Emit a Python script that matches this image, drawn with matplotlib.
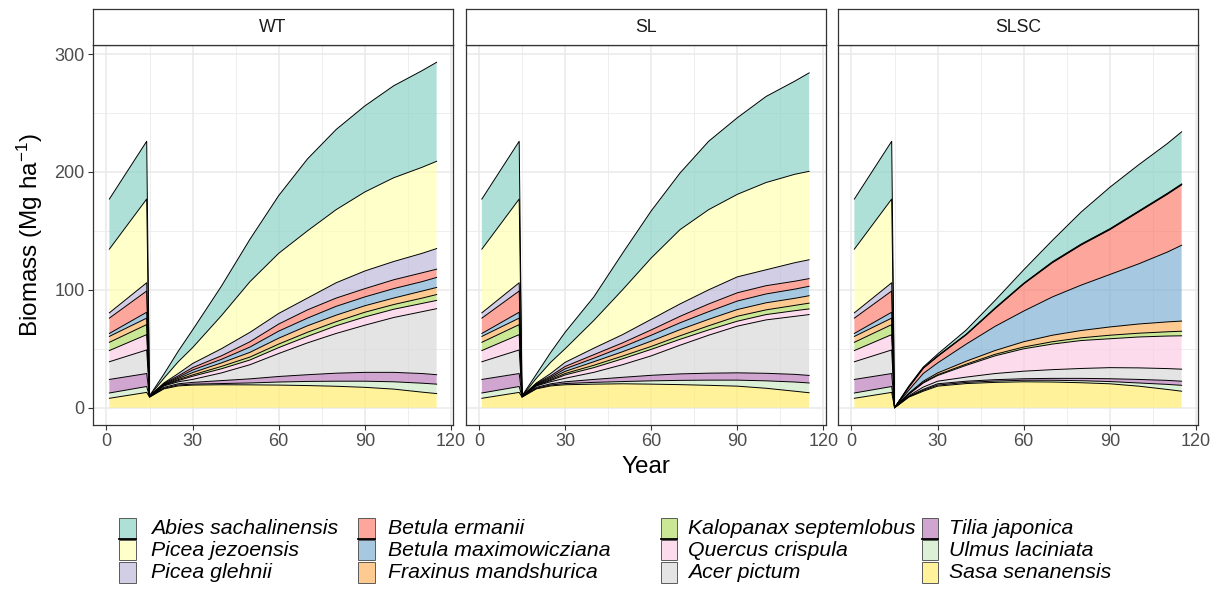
import numpy as np
import matplotlib
matplotlib.use("Agg")
import matplotlib.pyplot as plt
from matplotlib.patches import Rectangle
from matplotlib.lines import Line2D

plt.rcParams['font.family'] = ['Liberation Sans', 'DejaVu Sans']
plt.rcParams['mathtext.fontset'] = 'custom'
plt.rcParams['mathtext.rm'] = 'Liberation Sans'
plt.rcParams['mathtext.it'] = 'Liberation Sans:italic'

# ---------------- data ----------------
SPECIES = ['Abies sachalinensis', 'Picea jezoensis', 'Picea glehnii',
           'Betula ermanii', 'Betula maximowicziana', 'Fraxinus mandshurica',
           'Kalopanax septemlobus', 'Quercus crispula', 'Acer pictum',
           'Tilia japonica', 'Ulmus laciniata', 'Sasa senanensis']
COLORS = ['#8DD3C7', '#FFFFB3', '#BEBADA', '#FB8072', '#80B1D3', '#FDB462',
          '#B3DE69', '#FCCDE5', '#D9D9D9', '#BC80BD', '#CCEBC5', '#FFED6F']
PANELS = ['WT', 'SL', 'SLSC']

PRE_YEARS = [1, 14]
POST_YEARS = [15, 20, 25, 30, 40, 50, 60, 70, 80, 90, 100, 110, 115]

# biomass before harvest (same stand in all treatments), species in legend order
PRE = [
    [42.5, 49], [54, 71], [4.5, 7], [13, 18], [2.5, 5], [5, 5.5],
    [7, 8.5], [9.5, 13], [15, 20], [11.5, 11], [4.5, 5], [8, 13],
]

WT = [
    [0.1, 3.5, 9, 15, 25, 36, 49, 61, 68, 73, 78, 82, 84],
    [0.1, 4, 10, 13.5, 28, 43, 51, 57, 62, 67, 71, 73, 74],
    [0.1, 0.4, 2.0, 3.5, 6, 8, 9, 10, 13, 15, 15.5, 16.5, 17.5],
    [0.1, 0.5, 1.2, 2.0, 3.0, 4.5, 6, 7, 7, 7, 7.5, 7.5, 7],
    [0.1, 0.5, 1.0, 2.2, 3.0, 4.5, 6, 6.5, 7.5, 7.5, 8, 8, 8.5],
    [0.1, 0.4, 1.0, 2.0, 3.0, 4, 5, 5.5, 5.5, 5.5, 5.5, 6, 6],
    [0.1, 0.3, 0.8, 1.1, 2.0, 2.5, 3, 3.5, 3.5, 4, 4, 4.5, 5],
    [0.1, 0.4, 1.0, 2.7, 3.5, 4, 5, 5.5, 6.5, 7, 7, 7, 7],
    [0.1, 1.2, 1.7, 2.5, 6.5, 12, 19.5, 27, 33.7, 40, 46.5, 52.5, 56],
    [0.1, 0.8, 1.0, 1.5, 2.5, 3.5, 4.7, 5.7, 6.8, 7.5, 8, 8.2, 8],
    [0.1, 0.5, 0.8, 0.8, 1.0, 1.6, 2.6, 3.5, 4.3, 5.2, 6.2, 7.6, 8],
    [9, 16, 18.5, 19.2, 19.5, 19.4, 19.2, 18.8, 18.2, 17.3, 15.8, 13.2, 12],
]

SL = [
    [0.1, 3.5, 8.4, 14, 20, 31, 40, 48, 58, 65, 73, 79, 83.5],
    [0.1, 4, 9.5, 11.5, 23.5, 38, 52, 63, 68, 70, 74, 75, 75],
    [0.1, 0.4, 2.0, 3.5, 5.5, 7, 9, 10.5, 12, 13.5, 13.5, 15.7, 16],
    [0.1, 0.5, 1.2, 2, 3, 3.5, 4.5, 5.5, 6.5, 7, 7, 6.7, 6.5],
    [0.1, 0.5, 1.0, 2.2, 3, 4, 5, 5.8, 6.5, 7.2, 7.5, 7.8, 8],
    [0.1, 0.4, 1.0, 1.8, 3, 3.7, 4.5, 5.2, 5.5, 5.7, 6, 6, 6.3],
    [0.1, 0.3, 0.8, 1.2, 2, 2.3, 2.5, 3, 3.5, 4.2, 4, 4.5, 4.9],
    [0.1, 0.4, 1.0, 2.8, 4, 5, 5.5, 5, 4.5, 4.2, 4.5, 4.8, 4.8],
    [0.1, 1.2, 1.8, 3, 6, 10.7, 16.5, 24.3, 32.2, 39.6, 45.3, 49.2, 51.6],
    [0.1, 0.8, 1.0, 1.5, 2.5, 3.6, 4.7, 5.5, 5.9, 6.2, 6.4, 6.5, 6.4],
    [0.1, 0.5, 0.8, 1, 1.5, 1.9, 2.8, 3.6, 4.4, 5.1, 6.3, 7.8, 8.3],
    [9, 16, 18.5, 19.5, 20, 20.3, 20, 19.6, 19, 18.3, 16.5, 14, 12.7],
]

SLSC = [
    [0, 0.8, 0.8, 1.6, 3.6, 6.4, 11.4, 18.2, 27.2, 35.2, 39.2, 42.2, 44.2],
    [0, 0.1, 0.1, 0.2, 0.2, 0.3, 0.3, 0.4, 0.4, 0.4, 0.4, 0.4, 0.4],
    [0, 0.1, 0.1, 0.2, 0.2, 0.3, 0.3, 0.4, 0.4, 0.4, 0.4, 0.4, 0.4],
    [0, 2.5, 4.5, 5.5, 8, 15, 23, 29, 34, 38, 44, 49, 51.2],
    [0, 2.6, 6.5, 8.5, 14.5, 20.5, 26, 32.5, 38.5, 44.5, 51, 59.2, 64.3],
    [0, 0.6, 1, 1.5, 2.5, 3.2, 4.5, 5.5, 6.2, 7, 7.8, 8.4, 8.6],
    [0, 0.3, 0.5, 0.7, 1, 1.3, 1.5, 2, 2.3, 3, 3.2, 3.6, 3.9],
    [0, 1.3, 3.5, 4.8, 10, 15, 19, 21.7, 23.7, 24.5, 26.2, 27.6, 28.3],
    [0, 0.6, 1.9, 2.2, 3.5, 5.2, 6.4, 7.4, 8.4, 9.4, 9.8, 10, 10.2],
    [0, 0.3, 0.8, 1.1, 1, 1.2, 1.3, 1.6, 2, 2.4, 3, 3.4, 3.5],
    [0, 0.3, 0.8, 0.9, 1, 1.1, 1.3, 1.5, 1.7, 1.9, 2.7, 4.3, 5],
    [0, 9, 14, 18.3, 20.5, 21.5, 22, 21.8, 21.2, 20.3, 18.3, 15.5, 14],
]

PANEL_DATA = [WT, SL, SLSC]

X_TICKS = [0, 30, 60, 90, 120]
X_MINOR = [15, 45, 75, 105]
Y_TICKS = [0, 100, 200, 300]
Y_MINOR = [50, 150, 250]

# ---------------- figure ----------------
W, H = 1221, 592
fig = plt.figure(figsize=(W / 100, H / 100), dpi=100)

lefts = [93, 465.5, 838]
pw = 360
p_top, p_bot = 45, 425
strip_top = 9

years = PRE_YEARS + POST_YEARS
for i, (name, post) in enumerate(zip(PANELS, PANEL_DATA)):
    ax = fig.add_axes([lefts[i] / W, (H - p_bot) / H, pw / W, (p_bot - p_top) / H])
    vals = [np.array(PRE[k] + post[k], dtype=float) for k in range(len(SPECIES))]
    stack_vals = vals[::-1]
    stack_cols = COLORS[::-1]
    ax.stackplot(years, *stack_vals, colors=stack_cols, alpha=0.7,
                 linewidth=0, zorder=2)
    tops = np.cumsum(np.array(stack_vals), axis=0)
    for t in tops:
        ax.plot(years, t, color='black', lw=0.7, zorder=3, solid_joinstyle='round')

    ax.set_xlim(-4.7, 120.7)
    ax.set_ylim(-14.65, 307.65)
    ax.set_xticks(X_TICKS)
    ax.set_xticks(X_MINOR, minor=True)
    ax.set_yticks(Y_TICKS)
    ax.set_yticks(Y_MINOR, minor=True)
    ax.grid(which='major', color='#EBEBEB', lw=1.2)
    ax.grid(which='minor', color='#EBEBEB', lw=0.6)
    ax.set_axisbelow(True)
    ax.tick_params(which='minor', length=0)
    ax.tick_params(which='major', length=3.5, width=0.8, color='#333333',
                   labelsize=13, labelcolor='#4D4D4D', pad=2.5)
    if i > 0:
        ax.tick_params(axis='y', which='major', length=0, labelleft=False)
    for s in ax.spines.values():
        s.set_color('#333333')
        s.set_linewidth(0.9)

    sax = fig.add_axes([lefts[i] / W, (H - p_top) / H, pw / W, (p_top - strip_top) / H])
    sax.set_xticks([])
    sax.set_yticks([])
    sax.set_facecolor('white')
    for s in sax.spines.values():
        s.set_color('#333333')
        s.set_linewidth(0.9)
    sax.text(0.5, 0.5, name, ha='center', va='center', fontsize=12.7,
             color='#1A1A1A', transform=sax.transAxes)

fig.text(30 / W, 1 - 235 / H, 'Biomass (Mg ha$^{-1}$)', rotation=90,
         ha='center', va='center', fontsize=17.5)
fig.text(645.5 / W, 1 - 467 / H, 'Year', ha='center', va='center', fontsize=17.5)

# ---------------- legend ----------------
key_x = [119.3, 358, 660.7, 921.7]
text_x = [151, 388, 688, 949]
row_c = [528.3, 550, 572.5]
kw, kh = 16.7, 20.5
for idx, (sp, col) in enumerate(zip(SPECIES, COLORS)):
    c, r = idx // 3, idx % 3
    x0 = key_x[c]
    yc = row_c[r]
    fig.patches.append(Rectangle((x0 / W, 1 - (yc + kh / 2) / H), kw / W, kh / H,
                                 transform=fig.transFigure, facecolor=col, alpha=0.7,
                                 edgecolor='none'))
    fig.patches.append(Rectangle((x0 / W, 1 - (yc + kh / 2) / H), kw / W, kh / H,
                                 transform=fig.transFigure, facecolor='none',
                                 edgecolor='#5A5A5A', lw=0.7))
    if r == 0:
        yb = 1 - (yc + kh / 2) / H
        fig.lines.append(Line2D([x0 / W, (x0 + kw) / W], [yb, yb],
                                transform=fig.transFigure, color='black', lw=1.3))
    fig.text(text_x[c] / W, 1 - yc / H, sp, ha='left', va='center',
             fontsize=15.3, style='italic', color='black')

fig.savefig('out.png', dpi=100, facecolor='white')
